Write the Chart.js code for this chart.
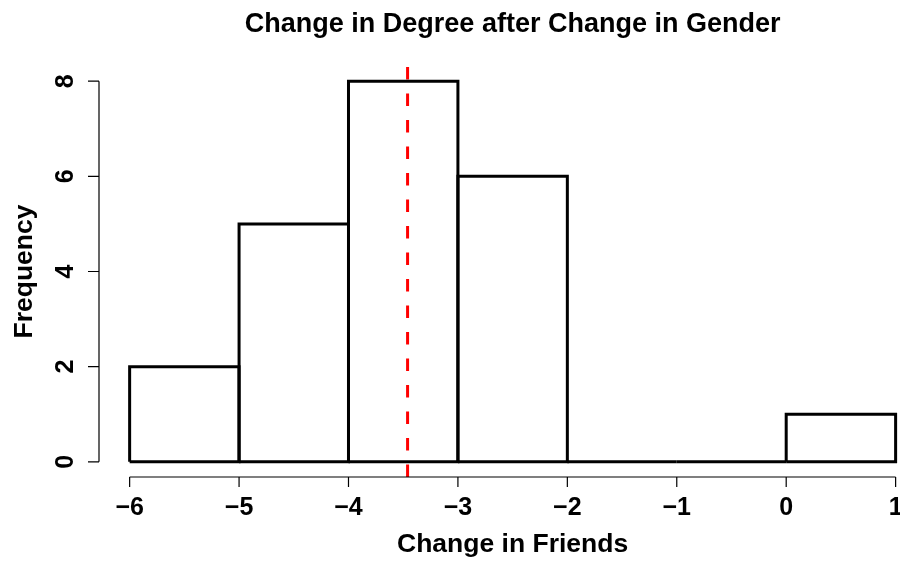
<!DOCTYPE html>
<html>
<head>
<meta charset="utf-8">
<title>Change in Degree after Change in Gender</title>
<script src="https://cdn.jsdelivr.net/npm/chart.js@4.4.0/dist/chart.umd.min.js"></script>
<style>
  html, body { margin: 0; padding: 0; background: #fff; }
  canvas { display: block; }
</style>
</head>
<body>
<canvas id="histChart" width="900" height="563"></canvas>
<script>
// histogram bins and counts
const binEdges = [-6, -5, -4, -3, -2, -1, 0, 1];
const counts = [2, 5, 8, 6, 0, 0, 1];
const meanChange = -3.46;

const xTicks = [-6, -5, -4, -3, -2, -1, 0, 1];
const xTickLabels = ['\u22126', '\u22125', '\u22124', '\u22123', '\u22122', '\u22121', '0', '1'];
const yTicks = [0, 2, 4, 6, 8];
const yTickLabels = ['0', '2', '4', '6', '8'];

const titleText = 'Change in Degree after Change in Gender';
const xLabel = 'Change in Friends';
const yLabel = 'Frequency';

const FONT = '"Liberation Sans", Arial, Helvetica, sans-serif';

// R pads the axis range by 4% each side
const xPad = (binEdges[binEdges.length - 1] - binEdges[0]) * 0.04;
const yPad = Math.max(...counts) * 0.04;

// one closed rectangle per bin, like hist() draws it
const binDatasets = counts.map((c, i) => ({
    data: [
        { x: binEdges[i], y: 0 },
        { x: binEdges[i], y: c },
        { x: binEdges[i + 1], y: c },
        { x: binEdges[i + 1], y: 0 },
        { x: binEdges[i], y: 0 }
    ],
    showLine: true,
    borderColor: '#000',
    borderWidth: 3,
    borderJoinStyle: 'miter',
    pointRadius: 0,
    tension: 0,
    fill: false
}));

const meanDataset = {
    data: [
        { x: meanChange, y: -yPad },
        { x: meanChange, y: Math.max(...counts) + yPad }
    ],
    showLine: true,
    borderColor: '#ff0000',
    borderWidth: 3,
    borderDash: [12.5, 14],
    pointRadius: 0,
    fill: false
};

// R style axes, titles
const rAxes = {
    id: 'rAxes',
    afterDraw(chart) {
        const ctx = chart.ctx;
        const xs = chart.scales.x;
        const ys = chart.scales.y;
        const area = chart.chartArea;
        const centerX = (xs.getPixelForValue(binEdges[0] - xPad) + xs.getPixelForValue(binEdges[binEdges.length - 1] + xPad)) / 2;
        const centerY = (area.top + area.bottom) / 2;

        ctx.save();
        ctx.strokeStyle = '#000';
        ctx.lineWidth = 1.2;
        ctx.fillStyle = '#000';

        // y axis
        const ax = area.left;
        ctx.beginPath();
        ctx.moveTo(ax, ys.getPixelForValue(yTicks[0]));
        ctx.lineTo(ax, ys.getPixelForValue(yTicks[yTicks.length - 1]));
        yTicks.forEach(t => {
            const py = ys.getPixelForValue(t);
            ctx.moveTo(ax, py);
            ctx.lineTo(ax - 11, py);
        });
        ctx.stroke();

        ctx.font = 'bold 25px ' + FONT;
        ctx.textAlign = 'center';
        ctx.textBaseline = 'alphabetic';
        yTicks.forEach((t, i) => {
            ctx.save();
            ctx.translate(73, ys.getPixelForValue(t));
            ctx.rotate(-Math.PI / 2);
            ctx.fillText(yTickLabels[i], 0, 0);
            ctx.restore();
        });

        // x axis
        const ay = area.bottom;
        ctx.beginPath();
        ctx.moveTo(xs.getPixelForValue(xTicks[0]), ay);
        ctx.lineTo(xs.getPixelForValue(xTicks[xTicks.length - 1]), ay);
        xTicks.forEach(t => {
            const px = xs.getPixelForValue(t);
            ctx.moveTo(px, ay);
            ctx.lineTo(px, ay + 10);
        });
        ctx.stroke();

        xTicks.forEach((t, i) => {
            ctx.fillText(xTickLabels[i], xs.getPixelForValue(t), 515);
        });

        // titles
        ctx.font = 'bold 27px ' + FONT;
        ctx.fillText(titleText, centerX, 32);

        ctx.font = 'bold 26.5px ' + FONT;
        ctx.fillText(xLabel, centerX, 551.5);

        ctx.save();
        ctx.translate(31.5, centerY);
        ctx.rotate(-Math.PI / 2);
        ctx.fillText(yLabel, 0, 0);
        ctx.restore();

        ctx.restore();
    }
};

new Chart(document.getElementById('histChart'), {
    type: 'scatter',
    data: { datasets: [...binDatasets, meanDataset] },
    options: {
        responsive: false,
        animation: false,
        layout: { padding: { left: 99, right: 0, top: 66, bottom: 86 } },
        scales: {
            x: { type: 'linear', min: binEdges[0] - xPad, max: 1.04, display: false },
            y: { type: 'linear', min: -yPad, max: Math.max(...counts) + yPad, display: false }
        },
        plugins: {
            legend: { display: false },
            tooltip: { enabled: false }
        }
    },
    plugins: [rAxes]
});
</script>
</body>
</html>
